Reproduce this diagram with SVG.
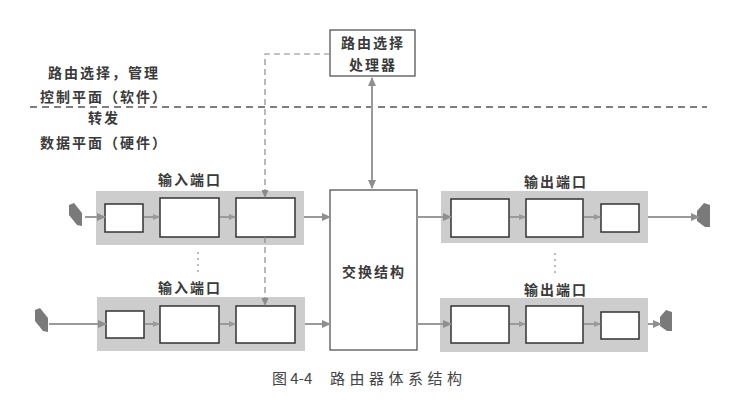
<svg xmlns="http://www.w3.org/2000/svg" width="737" height="407" viewBox="0 0 737 407">
<style>
.t{font-family:"Noto Sans CJK SC","Noto Sans",sans-serif;font-size:14px;font-weight:700;fill:#3a3a3a;letter-spacing:2px;text-anchor:middle}
.cap{font-family:"Noto Sans CJK SC","Noto Sans",sans-serif;font-size:15px;fill:#444}
.bg{fill:#cdcdcd}
.box{fill:#fff;stroke:#333;stroke-width:1.5}
.main{fill:#fff;stroke:#555;stroke-width:1.3}
.arr{stroke:#9a9a9a;stroke-width:2;fill:none}
.dash{stroke:#8a8a8a;stroke-width:1.2;fill:none;stroke-dasharray:6 4}
.plug{fill:#7a7a7a}
.dots{stroke:#bbb;stroke-width:2;stroke-dasharray:2 4}
</style>
<defs>
<marker id="ah" markerUnits="userSpaceOnUse" markerWidth="9" markerHeight="8" refX="8" refY="4" orient="auto-start-reverse">
<path d="M0,0 L9,4 L0,8 z" fill="#8f8f8f"/>
</marker>
<marker id="ahs" markerUnits="userSpaceOnUse" markerWidth="7" markerHeight="6" refX="6" refY="3" orient="auto">
<path d="M0,0 L7,3 L0,6 z" fill="#9a9a9a"/>
</marker>
<marker id="ahd" markerUnits="userSpaceOnUse" markerWidth="8" markerHeight="7" refX="7" refY="3.5" orient="auto">
<path d="M0,0 L8,3.5 L0,7 z" fill="#8a8a8a"/>
</marker>
</defs>
<rect width="737" height="407" fill="#fff"/>

<!-- plane separator and labels -->
<line x1="30" y1="107" x2="707" y2="107" stroke="#555" stroke-width="1.3" stroke-dasharray="7 5"/>
<text class="t" x="104" y="78">路由选择，管理</text>
<text class="t" x="104" y="102">控制平面（软件）</text>
<text class="t" x="104" y="123">转发</text>
<text class="t" x="104" y="148">数据平面（硬件）</text>

<g id="processor">
<rect class="main" x="330" y="30" width="85" height="46"/>
<text class="t" x="373" y="48">路由选择</text>
<text class="t" x="373" y="70">处理器</text>
</g>

<g id="switch">
<rect class="main" x="330" y="190" width="87" height="160"/>
<text class="t" x="374" y="277">交换结构</text>
</g>

<g id="input1">
<text class="t" x="190" y="185">输入端口</text>
<polygon class="plug" points="69,205 74,203 82,213 82,226 77,225 69,215"/>
<rect class="bg" x="96" y="191" width="208" height="54"/>
<rect class="box" x="105" y="204" width="38" height="28"/>
<rect class="box" x="160" y="198" width="59" height="39"/>
<rect class="box" x="236" y="198" width="59" height="39"/>
<line class="arr" x1="144" y1="217" x2="159" y2="217" stroke-width="1.5" marker-end="url(#ahs)"/>
<line class="arr" x1="220" y1="217" x2="235" y2="217" stroke-width="1.5" marker-end="url(#ahs)"/>
</g>

<g id="input2">
<text class="t" x="190" y="293">输入端口</text>
<polygon class="plug" points="35,310 40,308 48,318 48,332 43,331 35,321"/>
<rect class="bg" x="97" y="297" width="208" height="54"/>
<rect class="box" x="106" y="311" width="38" height="27"/>
<rect class="box" x="160" y="306" width="59" height="37"/>
<rect class="box" x="236" y="306" width="59" height="37"/>
<line class="arr" x1="145" y1="324" x2="159" y2="324" stroke-width="1.5" marker-end="url(#ahs)"/>
<line class="arr" x1="220" y1="324" x2="235" y2="324" stroke-width="1.5" marker-end="url(#ahs)"/>
</g>

<g id="output1">
<text class="t" x="556" y="187">输出端口</text>
<rect class="bg" x="441" y="191" width="207" height="52"/>
<rect class="box" x="451" y="199" width="58" height="38"/>
<rect class="box" x="526" y="199" width="57" height="38"/>
<rect class="box" x="601" y="204" width="38" height="28"/>
<line class="arr" x1="510" y1="217" x2="525" y2="217" stroke-width="1.5" marker-end="url(#ahs)"/>
<line class="arr" x1="584" y1="217" x2="600" y2="217" stroke-width="1.5" marker-end="url(#ahs)"/>
<polygon class="plug" points="697,211 704,203 710,205 710,227 705,227 697,221"/>
</g>

<g id="output2">
<text class="t" x="556" y="295">输出端口</text>
<rect class="bg" x="440" y="298" width="208" height="54"/>
<rect class="box" x="451" y="306" width="58" height="37"/>
<rect class="box" x="526" y="306" width="57" height="37"/>
<rect class="box" x="601" y="312" width="38" height="27"/>
<line class="arr" x1="510" y1="324" x2="525" y2="324" stroke-width="1.5" marker-end="url(#ahs)"/>
<line class="arr" x1="584" y1="324" x2="600" y2="324" stroke-width="1.5" marker-end="url(#ahs)"/>
<polygon class="plug" points="660,317 666,310 672,312 672,331 667,331 660,326"/>
</g>

<!-- connectors -->
<g id="connectors">
<path class="dash" d="M330,54 H265 V197" marker-end="url(#ahd)"/>
<path class="dash" d="M265,237 V305" marker-end="url(#ahd)"/>
<line class="arr" x1="372" y1="78" x2="372" y2="188" marker-start="url(#ah)" marker-end="url(#ah)"/>
<line class="arr" x1="304" y1="217" x2="330" y2="217" marker-end="url(#ah)"/>
<line class="arr" x1="305" y1="324" x2="330" y2="324" marker-end="url(#ah)"/>
<line class="arr" x1="417" y1="217" x2="451" y2="217" marker-end="url(#ah)"/>
<line class="arr" x1="417" y1="324" x2="451" y2="324" marker-end="url(#ah)"/>
<line class="arr" x1="85" y1="217" x2="105" y2="217" marker-end="url(#ah)"/>
<line class="arr" x1="49" y1="324" x2="106" y2="324" marker-end="url(#ah)"/>
<line class="arr" x1="648" y1="217" x2="699" y2="217" marker-end="url(#ah)"/>
<line class="arr" x1="648" y1="324" x2="661" y2="324" marker-end="url(#ah)"/>
</g>

<line class="dots" x1="198" y1="252" x2="198" y2="272"/>
<line class="dots" x1="555" y1="253" x2="555" y2="273"/>

<text class="cap" x="272" y="384">图 4-4</text>
<text class="cap" x="330" y="384" letter-spacing="4.5">路由器体系结构</text>
</svg>
